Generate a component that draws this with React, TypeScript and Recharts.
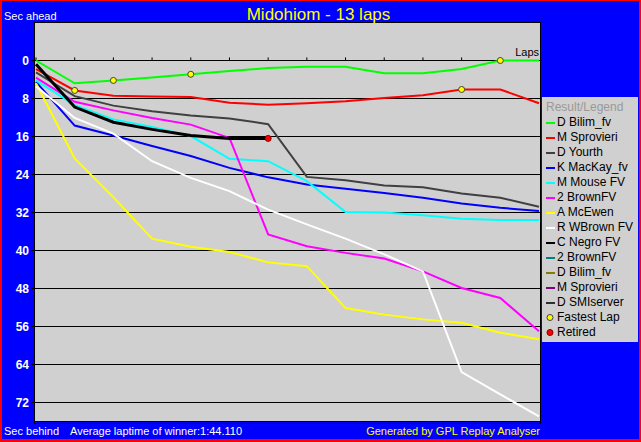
import { CartesianGrid, Legend, Line, LineChart, ReferenceLine, XAxis, YAxis } from 'recharts'

// seconds behind the leader at the end of each lap
const laps = [0, 1, 2, 3, 4, 5, 6, 7, 8, 9, 10, 11, 12, 13]
const bilim = [0, 4.8, 4.2, 3.6, 2.9, 2.2, 1.6, 1.3, 1.3, 2.7, 2.7, 1.8, 0, 0]
const sprovieri = [1.8, 6.3, 7.4, 7.6, 7.7, 8.9, 9.3, 9.0, 8.6, 7.9, 7.3, 6.1, 6.1, 9.0]
const yourth = [2.5, 7.5, 9.5, 10.7, 11.6, 12.2, 13.4, 24.5, 25.2, 26.3, 26.7, 28.0, 28.9, 30.8]
const mackay = [4.5, 13.7, 15.8, 18.0, 20.1, 22.6, 24.6, 26.1, 27.0, 27.9, 28.9, 30.1, 31.0, 31.7]
const mouse = [4.2, 9.4, 12.4, 14.0, 15.9, 20.7, 21.2, 25.4, 31.9, 32.0, 32.6, 33.3, 33.6, 33.6]
const brown = [3.6, 8.7, 10.5, 12.1, 13.5, 16.3, 36.6, 39.1, 40.5, 41.7, 44.4, 47.9, 50.0, 57.0]
const mcewen = [4.8, 20.6, 28.8, 37.5, 39.2, 40.3, 42.5, 43.3, 52.1, 53.5, 54.5, 55.2, 57.3, 58.7]
const wbrown = [5.4, 12.1, 15.4, 21.2, 24.7, 27.5, 31.4, 34.5, 37.5, 40.8, 44.4, 65.6, 70.3, 74.9]
const negro = [0.8, 9.8, 13.0, 14.5, 15.8, 16.4, 16.4, null, null, null, null, null, null, null]

const bilimFastest = [2, 4, 12]
const sprovieriFastest = [1, 11]
const negroRetired = 6

const yTicks = [0, 8, 16, 24, 32, 40, 48, 56, 64, 72]
const lapTicks = [0, 1, 2, 3, 4, 5, 6, 7, 8, 9, 10, 11, 12]

const legendNames = [
  'D Bilim_fv',
  'M Sprovieri',
  'D Yourth',
  'K MacKay_fv',
  'M Mouse FV',
  '2 BrownFV',
  'A McEwen',
  'R WBrown FV',
  'C Negro FV',
  '2 BrownFV',
  'D Bilim_fv',
  'M Sprovieri',
  'D SMIserver',
]
const legendColors = [
  '#00ff00',
  '#ff0000',
  '#404040',
  '#0000ff',
  '#00ffff',
  '#ff00ff',
  '#ffff00',
  '#ffffff',
  '#000000',
  '#008080',
  '#808000',
  '#800080',
  '#303030',
]

const series = [
  { key: 'bilim', values: bilim, fastest: bilimFastest },
  { key: 'sprovieri', values: sprovieri, fastest: sprovieriFastest },
  { key: 'yourth', values: yourth },
  { key: 'mackay', values: mackay },
  { key: 'mouse', values: mouse },
  { key: 'brown', values: brown },
  { key: 'mcewen', values: mcewen },
  { key: 'wbrown', values: wbrown },
  { key: 'negro', values: negro, retired: negroRetired, width: 3 },
]

const data = laps.map((lap, i) => {
  const row: Record<string, number | null> = { lap }
  series.forEach((s) => {
    row[s.key] = s.values[i]
  })
  return row
})

const FONT = '"Liberation Sans", Arial, sans-serif'
const PLOT_BG = '#d0d0d0'

function makeDot(fastest: number[] = [], retired?: number) {
  return (props: any) => {
    const { cx, cy, index } = props
    const k = `dot-${index}`
    if (cx == null || cy == null) return <g key={k} />
    if (fastest.includes(index))
      return <circle key={k} cx={cx} cy={cy} r={3} fill="#ffff00" stroke="#404040" strokeWidth={1} />
    if (index === retired)
      return <circle key={k} cx={cx} cy={cy} r={3} fill="#ff0000" stroke="#800000" strokeWidth={1} />
    return <g key={k} />
  }
}

function LegendBox() {
  const row = { height: 15, lineHeight: '15px', display: 'flex', alignItems: 'center', whiteSpace: 'nowrap' as const }
  return (
    <div
      style={{
        background: PLOT_BG,
        width: 96,
        height: 245,
        boxSizing: 'border-box',
        padding: '3px 0 0 4px',
        fontFamily: FONT,
        fontSize: 12,
        color: '#000',
        textAlign: 'left',
      }}
    >
      <div style={{ ...row, color: '#999999' }}>Result/Legend</div>
      {legendNames.map((name, i) => (
        <div key={i} style={row}>
          <span style={{ display: 'inline-block', width: 9, height: 2, background: legendColors[i], marginRight: 2 }} />
          {name}
        </div>
      ))}
      <div style={row}>
        <svg width={11} height={15}>
          <circle cx={4} cy={7.5} r={3} fill="#ffff00" stroke="#404040" />
        </svg>
        Fastest Lap
      </div>
      <div style={row}>
        <svg width={11} height={15}>
          <circle cx={4} cy={7.5} r={3} fill="#ff0000" stroke="#800000" />
        </svg>
        Retired
      </div>
    </div>
  )
}

export default function App() {
  return (
    <div style={{ position: 'relative', width: 641, height: 442, background: '#0000ff', overflow: 'hidden' }}>
      <style>{'body{margin:0}'}</style>
      <LineChart width={641} height={442} data={data} margin={{ top: 22.5, right: 101, bottom: 20.5, left: 0 }}>
        <CartesianGrid vertical={false} stroke="#000" fill={PLOT_BG} fillOpacity={1} />
        <XAxis dataKey="lap" type="number" domain={[0, 13]} padding={{ left: 1, right: 1 }} hide />
        <YAxis
          type="number"
          reversed
          domain={[-8, 76]}
          allowDataOverflow
          ticks={yTicks}
          interval={0}
          width={35}
          axisLine={false}
          tickLine={{ stroke: '#000' }}
          tickSize={4}
          tickMargin={2}
          tick={{ fill: '#fff', fontSize: 12, fontWeight: 'bold', fontFamily: FONT }}
        />
        {lapTicks.map((lap) => (
          <ReferenceLine
            key={lap}
            segment={[
              { x: lap, y: 0 },
              { x: lap, y: -0.65 },
            ]}
            stroke="#000"
          />
        ))}
        {series.map((s, i) => (
          <Line
            key={s.key}
            dataKey={s.key}
            name={legendNames[i]}
            type="linear"
            stroke={legendColors[i]}
            strokeWidth={s.width ?? 2}
            dot={makeDot(s.fastest, s.retired)}
            activeDot={false}
            isAnimationActive={false}
          />
        ))}
        <Legend
          layout="horizontal"
          verticalAlign="middle"
          align="center"
          content={() => <LegendBox />}
          wrapperStyle={{ position: 'absolute', left: 542, top: 97, width: 96, height: 245, margin: 0 }}
        />
      </LineChart>
      <div
        style={{
          position: 'absolute',
          left: 34,
          top: 22,
          width: 507,
          height: 402,
          border: '1px solid #000',
          boxSizing: 'border-box',
          pointerEvents: 'none',
        }}
      />
      <svg width={641} height={442} style={{ position: 'absolute', left: 0, top: 0, pointerEvents: 'none' }}>
        <g fontFamily={FONT}>
          <text x={318.5} y={20} textAnchor="middle" fontSize={17} fill="#ffff00">
            Midohiom - 13 laps
          </text>
          <text x={4} y={20} fontSize={11} fill="#fff">
            Sec ahead
          </text>
          <text x={539} y={56} textAnchor="end" fontSize={11} fill="#000">
            Laps
          </text>
          <text x={4} y={435} fontSize={11} fill="#fff">
            Sec behind
          </text>
          <text x={70} y={435} fontSize={11} fill="#fff">
            Average laptime of winner:1:44.110
          </text>
          <text x={540} y={435} textAnchor="end" fontSize={11} fill="#ffff00">
            Generated by GPL Replay Analyser
          </text>
        </g>
      </svg>
      <div
        style={{
          position: 'absolute',
          inset: 0,
          borderStyle: 'solid',
          borderColor: '#ff0000',
          borderWidth: '1px 2px 3px 2px',
          pointerEvents: 'none',
        }}
      />
    </div>
  )
}
